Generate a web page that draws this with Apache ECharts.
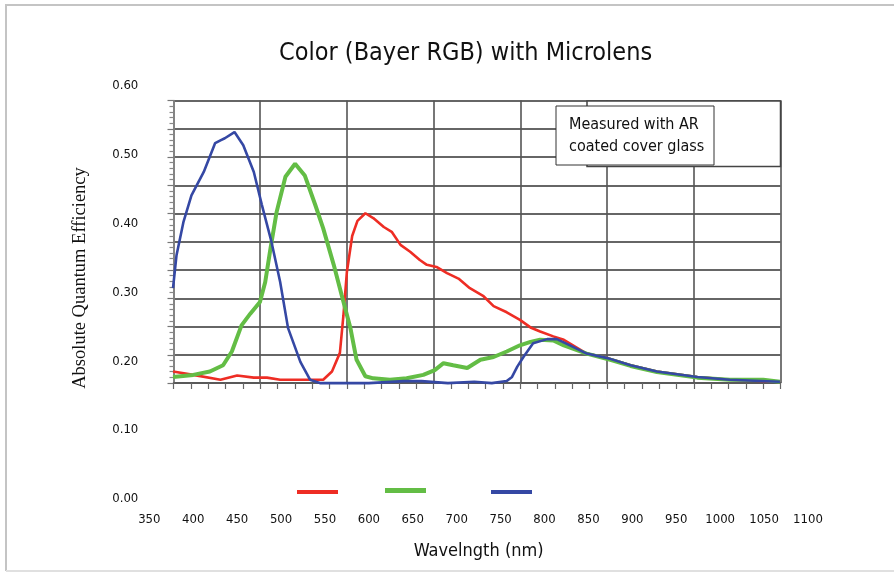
<!DOCTYPE html>
<html>
<head>
<meta charset="utf-8">
<script src="https://cdn.jsdelivr.net/npm/echarts@6/dist/echarts.min.js"></script>
<style>html,body{margin:0;padding:0;background:#fff}#c{width:894px;height:572px}</style>
</head>
<body>
<div id="c"></div>
<script>
// Tick labels (outer axes)
const xTicks = [350,400,450,500,550,600,650,700,750,800,850,900,950,1000,1050,1100];
const yTicks = [0.00,0.10,0.20,0.30,0.40,0.50,0.60];

// Red channel
const redNm  = [377,400,431,450,469,484,499,533,548,558,567,571,575,581,587,596,605,617,626,636,647,658,666,677,689,702,715,730,742,757,772,784,795,810,822,848,873,898,928,974,1011,1068];
const redVal = [0.185,0.180,0.173,0.179,0.176,0.176,0.173,0.173,0.173,0.185,0.212,0.266,0.330,0.382,0.404,0.415,0.408,0.395,0.388,0.369,0.359,0.347,0.340,0.337,0.328,0.320,0.306,0.295,0.280,0.271,0.260,0.249,0.243,0.236,0.231,0.211,0.204,0.194,0.185,0.177,0.173,0.170];

// Green channel
const greenNm  = [377,400,419,434,444,455,465,476,482,488,495,505,516,527,539,548,560,569,579,586,596,605,624,643,662,675,685,696,712,727,742,757,772,784,795,810,822,848,875,898,928,974,1011,1049,1068];
const greenVal = [0.177,0.180,0.185,0.194,0.214,0.252,0.269,0.286,0.315,0.364,0.417,0.468,0.487,0.470,0.427,0.393,0.340,0.296,0.248,0.202,0.178,0.175,0.173,0.175,0.180,0.187,0.197,0.194,0.190,0.202,0.206,0.214,0.223,0.228,0.231,0.230,0.223,0.211,0.202,0.193,0.184,0.176,0.173,0.173,0.170];

// Blue channel
const blueNm  = [377,381,389,398,412,425,431,436,447,457,469,478,489,499,508,522,533,545,600,640,660,690,720,740,757,763,769,776,787,803,814,829,848,873,898,928,974,1011,1068];
const blueVal = [0.306,0.354,0.403,0.441,0.475,0.517,0.521,0.524,0.533,0.514,0.475,0.428,0.374,0.315,0.248,0.199,0.173,0.168,0.168,0.171,0.171,0.168,0.170,0.168,0.171,0.177,0.192,0.206,0.226,0.232,0.232,0.223,0.211,0.204,0.194,0.185,0.177,0.173,0.170];

const pairs = (xs, ys) => xs.map((x, i) => [x, ys[i]]);
const NARROW = '"Liberation Sans Narrow","DejaVu Sans Condensed","Roboto Condensed","Liberation Sans",sans-serif';

const chart = echarts.init(document.getElementById('c'), null, {renderer: 'canvas'});
const legendBase = {
  orient: 'horizontal', padding: 0, itemGap: 0, icon: 'rect',
  itemWidth: 41, itemHeight: 4, selectedMode: false,
  formatter: () => '', textStyle: {fontSize: 2, lineHeight: 2}
};
chart.setOption({
  animation: false,
  backgroundColor: '#ffffff',
  title: {
    text: 'Color (Bayer RGB) with Microlens',
    left: 274, top: 36,
    textStyle: {fontFamily: NARROW, fontSize: 25, fontWeight: 'normal', color: '#111'}
  },
  legend: [
    Object.assign({}, legendBase, {data: ['Red'],   left: 297, top: 490}),
    Object.assign({}, legendBase, {data: ['Green'], left: 385, top: 488, itemHeight: 5}),
    Object.assign({}, legendBase, {data: ['Blue'],  left: 491, top: 490})
  ],
  grid: [
    {left: 149.3, right: 86, top: 86, bottom: 73.3},
    {left: 173.5, right: 113.5, top: 100.5, bottom: 189}
  ],
  xAxis: [
    {
      gridIndex: 0, type: 'value', min: xTicks[0], max: xTicks[xTicks.length - 1], interval: 50,
      name: 'Wavelngth (nm)', nameLocation: 'middle', nameGap: 44,
      nameTextStyle: {fontFamily: NARROW, fontSize: 18, color: '#111'},
      axisLine: {show: false}, axisTick: {show: false}, splitLine: {show: false},
      axisLabel: {margin: 14, fontFamily: NARROW, fontSize: 13, color: '#111',
        formatter: v => String(v)}
    },
    {
      gridIndex: 1, type: 'value', min: 0, max: 7, interval: 1,
      axisLabel: {show: false},
      axisLine: {show: true, lineStyle: {color: '#555', width: 1.5}},
      axisTick: {show: true, length: 6, lineStyle: {color: '#666', width: 1.2}},
      minorTick: {show: true, splitNumber: 5, length: 6, lineStyle: {color: '#666', width: 1.2}},
      splitLine: {show: true, lineStyle: {color: '#555', width: 1.6}}
    }
  ],
  yAxis: [
    {
      gridIndex: 0, type: 'value', min: yTicks[0], max: yTicks[yTicks.length - 1], interval: 0.1,
      axisLine: {show: false}, axisTick: {show: false}, splitLine: {show: false},
      axisLabel: {margin: 11, fontFamily: NARROW, fontSize: 13, color: '#111',
        formatter: v => v.toFixed(2)}
    },
    {
      gridIndex: 1, type: 'value', min: 0, max: 10, interval: 1,
      axisLabel: {show: false},
      axisLine: {show: true, lineStyle: {color: '#888', width: 1.5}},
      axisTick: {show: true, length: 6, lineStyle: {color: '#777', width: 1.2}},
      minorTick: {show: true, splitNumber: 5, length: 4, lineStyle: {color: '#888', width: 1.2}},
      splitLine: {show: true, lineStyle: {color: '#666', width: 2}}
    }
  ],
  series: [
    {name: 'Red', type: 'line', xAxisIndex: 0, yAxisIndex: 0, data: pairs(redNm, redVal),
     symbol: 'none', color: '#ee2d24', lineStyle: {width: 2.6, color: '#ee2d24'}, z: 3},
    {name: 'Green', type: 'line', xAxisIndex: 0, yAxisIndex: 0, data: pairs(greenNm, greenVal),
     symbol: 'none', color: '#63bd45', lineStyle: {width: 4, color: '#63bd45'}, z: 4},
    {name: 'Blue', type: 'line', xAxisIndex: 0, yAxisIndex: 0, data: pairs(blueNm, blueVal),
     symbol: 'none', color: '#3548a4', lineStyle: {width: 2.6, color: '#3548a4'}, z: 5}
  ],
  graphic: [
    {type: 'polyline', shape: {points: [[6, 571], [6, 5], [894, 5]]}, style: {stroke: '#c4c4c4', lineWidth: 2, fill: null}, z: 1},
    {type: 'line', shape: {x1: 6, y1: 571, x2: 894, y2: 571}, style: {stroke: '#e0e0e0', lineWidth: 2}, z: 1},
    {type: 'text', x: 80, y: 278, rotation: Math.PI / 2,
     style: {text: 'Absolute Quantum Efficiency', font: '18.5px "Liberation Serif","Times New Roman",serif', fill: '#111', textAlign: 'center', textVerticalAlign: 'middle'}, z: 10},
    {type: 'rect', shape: {x: 587, y: 101, width: 193.5, height: 65.5}, style: {fill: '#fff', stroke: '#444', lineWidth: 1.5}, z: 50},
    {type: 'rect', shape: {x: 556, y: 106, width: 158, height: 59}, style: {fill: '#fff', stroke: '#333', lineWidth: 1}, z: 51},
    {type: 'text', x: 569, y: 136,
     style: {text: 'Measured with AR\ncoated cover glass', font: '16px ' + NARROW, fill: '#111', lineHeight: 22, textAlign: 'left', textVerticalAlign: 'middle'}, z: 52}
  ]
});
</script>
</body>
</html>
